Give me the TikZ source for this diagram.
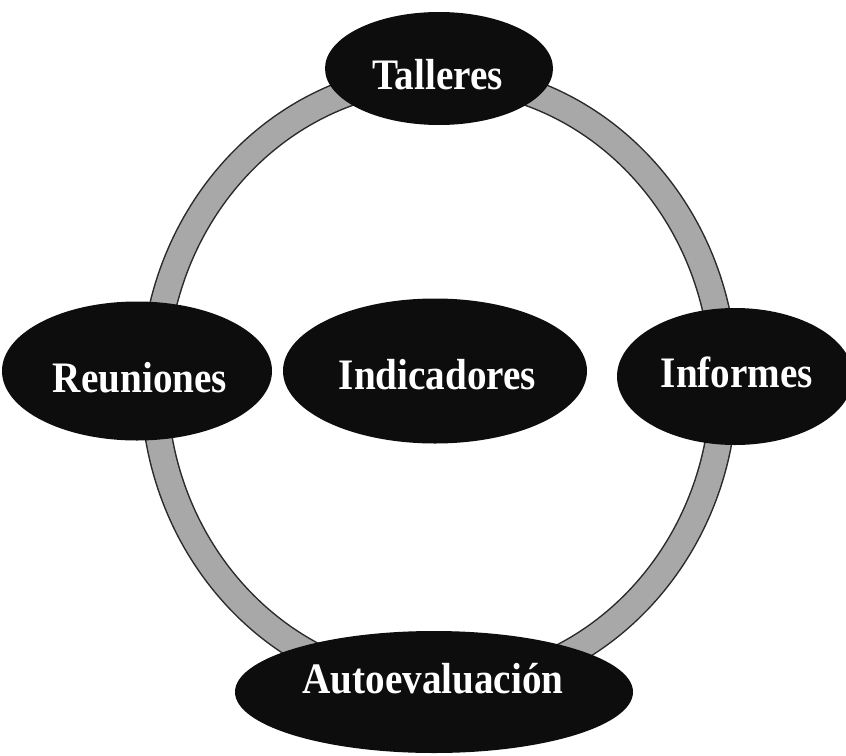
\documentclass[tikz,border=0pt]{standalone}
\usepackage{fontspec}
\setmainfont[FakeStretch=0.9]{Liberation Serif}
\usetikzlibrary{shapes.geometric}
\definecolor{ringgray}{HTML}{A8A8A8}
\definecolor{ringedge}{HTML}{2A2A2A}
\definecolor{blobfill}{HTML}{0D0D0D}
\begin{document}
\begin{tikzpicture}[x=1pt,y=-1pt,
  blob/.style={ellipse, fill=blobfill, draw=none, inner sep=0pt},
  lbl/.style={text=white, font=\bfseries\fontsize{43.5}{43.5}\selectfont, anchor=base, inner sep=0pt}]
\useasboundingbox (0,0) rectangle (846,755);
% ring
\coordinate (ringc) at (439,382);
\draw[line width=28pt, draw=ringedge] (ringc) ellipse [x radius=285pt, y radius=305pt];
\draw[line width=25pt, draw=ringgray] (ringc) ellipse [x radius=285pt, y radius=305pt];
% ellipses
\node[blob, minimum width=228pt, minimum height=113pt] (tal) at (439,68.5) {};
\node[blob, minimum width=270pt, minimum height=139pt] (reu) at (137,371) {};
\node[blob, minimum width=304pt, minimum height=145pt] (ind) at (435,371) {};
\node[blob, minimum width=236pt, minimum height=137pt] (inf) at (735,376.5) {};
\node[blob, minimum width=398pt, minimum height=122pt] (aut) at (434,692) {};
% labels
\node[lbl] (taltxt) at (437.5,89) {Talleres};
\node[lbl] (reutxt) at (140,392) {Reuniones};
\node[lbl] (indtxt) at (437.5,389) {Indicadores};
\node[lbl] (inftxt) at (737,387) {Informes};
\node[lbl] (auttxt) at (433,693) {Autoevaluación};
\end{tikzpicture}
\end{document}
